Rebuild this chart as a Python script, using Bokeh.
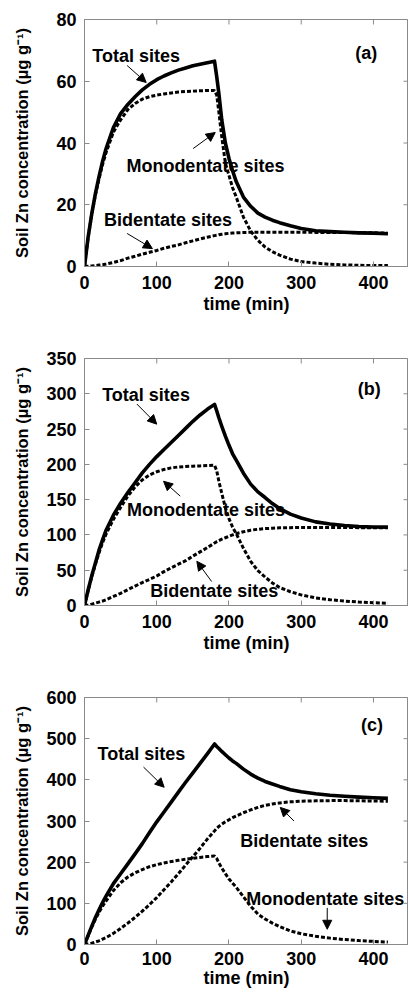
from bokeh.plotting import figure
from bokeh.models import Range1d, FixedTicker, Label, Arrow, NormalHead
from bokeh.layouts import column
from bokeh.embed import file_html
from bokeh.resources import INLINE

# ---------------- data ----------------
time_min = [0, 5, 10, 15, 20, 25, 30, 40, 50, 60, 70, 80, 90, 100, 110, 120,
            130, 140, 150, 160, 170, 180, 183, 186, 190, 195, 200, 205, 210,
            220, 230, 240, 250, 260, 270, 285, 300, 320, 340, 360, 380, 400, 420]

a_total = [0, 9.5, 17, 23.5, 29, 34, 38.3, 45, 49.5, 52.5, 55, 57.2, 59, 60.5,
           61.7, 62.7, 63.6, 64.3, 65, 65.5, 66, 66.5, 61.5, 56, 47.5, 40, 35,
           31, 27.5, 22.5, 19.5, 17.3, 16, 15, 14.2, 13.2, 12.3, 11.6, 11.3,
           11.1, 10.9, 10.8, 10.6]
a_mono = [0, 9.4, 16.8, 23, 28.3, 33, 37, 43.5, 47.5, 50.8, 52.8, 54.2, 55, 55.5,
          55.9, 56.2, 56.5, 56.7, 56.8, 56.9, 57, 57, 55.5, 50, 42, 33.5, 29.5,
          25.5, 22.5, 16, 11.5, 8.5, 6.3, 4.8, 3.7, 2.4, 1.6, 1.1, 0.7, 0.5,
          0.4, 0.3, 0.3]
a_bi = [0, 0.1, 0.2, 0.3, 0.45, 0.6, 0.8, 1.3, 1.9, 2.7, 3.3, 4, 4.6, 5.2,
        5.9, 6.5, 7, 7.7, 8.3, 8.9, 9.5, 10, 10.1, 10.3, 10.45, 10.6, 10.75,
        10.85, 10.9, 11, 11.1, 11.1, 11.1, 11.1, 11.1, 11.1, 11.1, 11.05, 11,
        11, 10.95, 10.9, 10.8]

b_total = [0, 22, 42, 60, 78, 93, 107, 128, 145, 160, 174, 188, 200, 211,
           221, 231, 241, 251, 261, 270, 278, 285, 276, 266, 254, 240, 227,
           215, 206, 187.5, 172, 161, 153, 144.5, 137.5, 129.5, 124, 118.5,
           115.5, 113.3, 112, 111.3, 111]
b_mono = [0, 21, 40.5, 58, 74.5, 89, 101.5, 122, 139, 155, 168, 178, 185, 189.5,
          192.8, 195, 196.3, 197, 197.4, 197.8, 198.3, 198.7, 191, 176, 159,
          138.5, 123, 111, 102, 81, 62.5, 49.5, 40.3, 32, 25.5, 19.5, 15, 10.8,
          8.2, 6.3, 4.9, 3.9, 3.2]
b_bi = [0, 0.8, 2, 3.3, 4.8, 6.3, 8.3, 12.8, 17.3, 22.5, 27.5, 32.5, 37, 41.8,
        48, 53.5, 58.5, 63.5, 70, 76, 82, 88.5, 90.5, 92, 94, 96, 98, 100,
        101.8, 104.5, 106.7, 108, 109, 109.5, 110, 110.3, 110.5, 110.5, 110.5,
        110.5, 110.3, 110.2, 110]

c_total = [0, 22, 44, 65, 84, 102, 118, 148, 172, 196, 220, 245, 272, 298,
           322, 346, 370, 394, 417, 440, 463, 487, 481, 476, 469, 461, 453,
           446, 440, 426, 414, 404, 396, 390, 384, 376, 371, 366, 362.5, 360,
           358, 356.5, 355]
c_mono = [0, 21, 42, 61, 78, 93, 106, 131, 150, 164, 174, 182, 189, 194,
          198, 201.5, 204.5, 207, 209.5, 211.5, 213.5, 215, 209, 198, 186, 172,
          159, 149, 139, 116, 93, 74, 62, 52, 43.5, 33, 26, 20, 15.5, 12, 9.5,
          7.5, 6]
c_bi = [0, 1, 3, 6, 9, 13, 17, 27, 39, 52, 66, 81, 97, 114, 133, 152, 172,
        193, 213, 234, 256, 276, 282, 287, 292, 298, 303, 308, 312, 320, 327,
        333, 338, 341.5, 344, 346.5, 348, 349, 349.5, 349.5, 349, 348.5, 348]

x_ticks = [0, 100, 200, 300, 400]
a_yticks = [0, 20, 40, 60, 80]
b_yticks = [0, 50, 100, 150, 200, 250, 300, 350]
c_yticks = [0, 100, 200, 300, 400, 500, 600]

panel_tags = ["(a)", "(b)", "(c)"]
label_total = "Total sites"
label_mono = "Monodentate sites"
label_bi = "Bidentate sites"
x_label = "time (min)"
y_label = "Soil Zn concentration (\u00b5g g\u207b\u00b9)"

# annotation anchors (data coordinates): (text, x, y)
a_texts = [(label_total, 10.8, 68.3), (label_mono, 58, 32.7), (label_bi, 27, 14.9)]
a_arrows = [(59, 65.1, 85.4, 59.6), (150.4, 38.2, 181, 43.4), (59, 10.7, 94, 5.8)]
a_tag_pos = (390, 69.3)

b_texts = [(label_total, 24.5, 298.7), (label_mono, 58.7, 136), (label_bi, 91, 20)]
b_arrows = [(72.5, 285.5, 100, 257), (132.5, 155, 109.4, 176), (176, 34, 155.5, 62.6)]
b_tag_pos = (394, 307)

c_texts = [(label_total, 18, 462), (label_bi, 215.5, 252), (label_mono, 224, 110)]
c_arrows = [(81.7, 431, 110.3, 382), (290, 300, 271, 333), (336, 89, 336, 37)]
c_tag_pos = (398, 533)

X_END = 448.5
FRAME_W = 324
FRAME_H = 247
TICK_PX = 5
FONT = "Liberation Sans"
AXIS_GRAY = "#8a8a8a"


def make_panel(total, mono, bi, y_end, y_ticks, tag, tag_pos, texts, arrows,
               bottom_border, ylab_standoff, xlab_standoff, xtick_standoff):
    p = figure(frame_width=FRAME_W, frame_height=FRAME_H,
               x_range=Range1d(0, X_END), y_range=Range1d(0, y_end),
               output_backend="svg", toolbar_location=None,
               min_border_left=84, min_border_right=0, min_border_top=19,
               min_border_bottom=bottom_border,
               background_fill_color="white", border_fill_color="white",
               x_axis_label=x_label, y_axis_label=y_label)
    p.grid.visible = False
    p.outline_line_color = AXIS_GRAY
    p.outline_line_width = 1

    for ax in (p.xaxis[0], p.yaxis[0]):
        ax.axis_line_color = AXIS_GRAY
        ax.major_tick_line_color = AXIS_GRAY
        ax.major_tick_in = TICK_PX
        ax.major_tick_out = 0
        ax.minor_tick_in = 0
        ax.minor_tick_out = 0
        ax.major_label_text_font = FONT
        ax.major_label_text_font_style = "bold"
        ax.major_label_text_font_size = "18px"
        ax.major_label_text_color = "black"
        ax.axis_label_text_font = FONT
        ax.axis_label_text_font_style = "bold"
        ax.axis_label_text_color = "black"
    p.xaxis[0].ticker = FixedTicker(ticks=x_ticks)
    p.yaxis[0].ticker = FixedTicker(ticks=y_ticks)
    p.xaxis[0].axis_label_text_font_size = "18px"
    p.yaxis[0].axis_label_text_font_size = "16.5px"
    p.xaxis[0].major_label_standoff = xtick_standoff
    p.xaxis[0].axis_label_standoff = xlab_standoff
    p.yaxis[0].major_label_standoff = 8
    p.yaxis[0].axis_label_standoff = ylab_standoff

    # inward tick marks on the top and right frame edges
    dx = TICK_PX * X_END / FRAME_W
    dy = TICK_PX * y_end / FRAME_H
    p.segment(x0=[X_END] * len(y_ticks), y0=y_ticks,
              x1=[X_END - dx] * len(y_ticks), y1=y_ticks,
              line_color=AXIS_GRAY, line_width=1)
    p.segment(x0=x_ticks, y0=[y_end] * len(x_ticks),
              x1=x_ticks, y1=[y_end - dy] * len(x_ticks),
              line_color=AXIS_GRAY, line_width=1)

    p.line(time_min, mono, line_color="black", line_width=3, line_dash="4 2")
    p.line(time_min, bi, line_color="black", line_width=3, line_dash="4 2")
    p.line(time_min, total, line_color="black", line_width=3.6,
           line_join="round")

    for txt, tx, ty in texts:
        p.add_layout(Label(x=tx, y=ty, text=txt, text_font=FONT,
                           text_font_style="bold", text_font_size="18px",
                           text_baseline="middle", text_align="left",
                           text_color="black", level="underlay"))
    p.add_layout(Label(x=tag_pos[0], y=tag_pos[1], text=tag, text_font=FONT,
                       text_font_style="bold", text_font_size="18px",
                       text_baseline="middle", text_align="center",
                       text_color="black"))
    for x0, y0, x1, y1 in arrows:
        p.add_layout(Arrow(x_start=x0, y_start=y0, x_end=x1, y_end=y1,
                           line_color="black", line_width=1,
                           end=NormalHead(size=9, fill_color="black",
                                          line_color="black", line_width=1)))
    return p


pa = make_panel(a_total, a_mono, a_bi, 80, a_yticks, panel_tags[0], a_tag_pos,
                a_texts, a_arrows, 73, 22, 2, 9)
pb = make_panel(b_total, b_mono, b_bi, 350, b_yticks, panel_tags[1], b_tag_pos,
                b_texts, b_arrows, 73, 12, 2, 9)
pc = make_panel(c_total, c_mono, c_bi, 600, c_yticks, panel_tags[2], c_tag_pos,
                c_texts, c_arrows, 0, 12, 0, 7)

layout = column(pa, pb, pc, spacing=0)

open("out.html", "w").write(file_html(layout, INLINE))
